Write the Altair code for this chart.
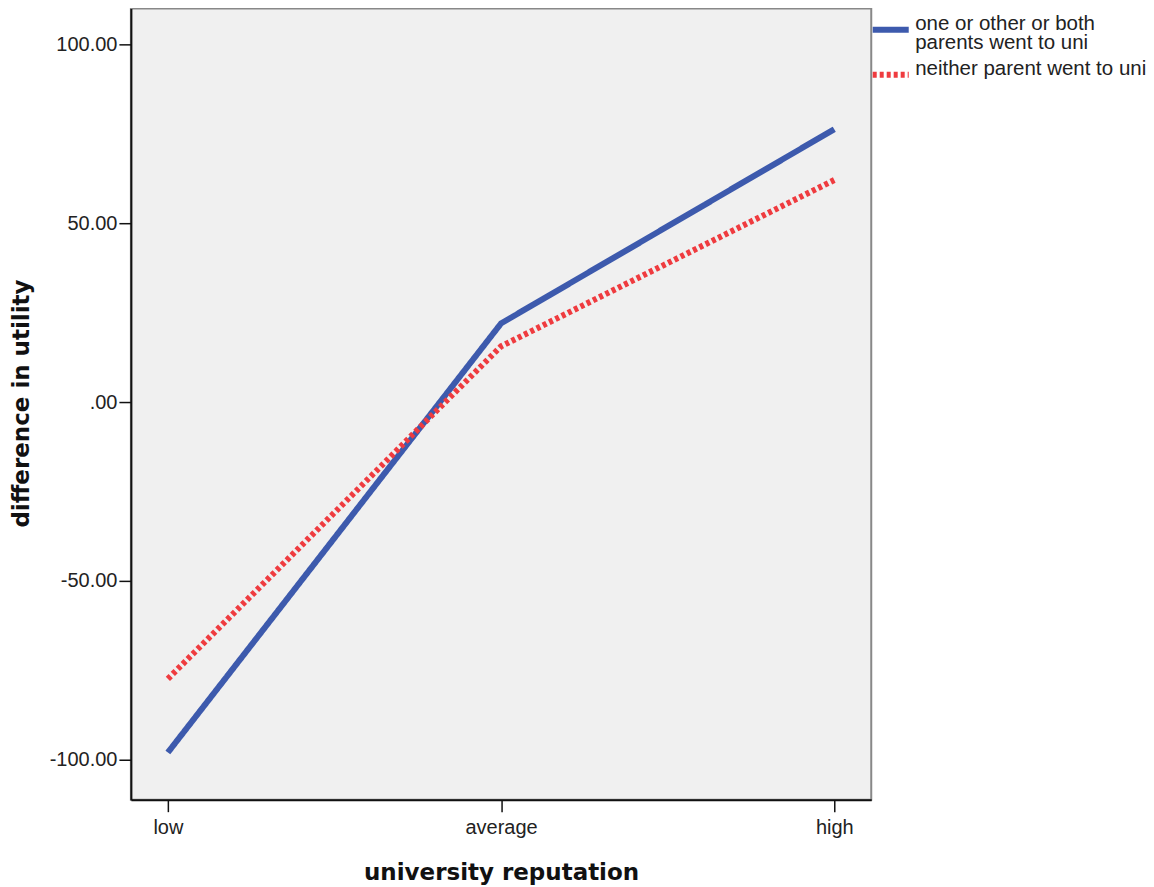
import altair as alt
import pandas as pd

categories = ["low", "average", "high"]
series_names = ["one or other or both parents went to uni", "neither parent went to uni"]
blue_values = [-98.0, 22.0, 76.3]
red_values = [-77.4, 15.6, 62.1]
y_ticks = [100, 50, 0, -50, -100]

rows = []
for c, v in zip(categories, blue_values):
    rows.append({"reputation": c, "utility": v, "group": series_names[0]})
for c, v in zip(categories, red_values):
    rows.append({"reputation": c, "utility": v, "group": series_names[1]})
df = pd.DataFrame(rows)

FONT = "Liberation Sans"
TITLE_FONT = "DejaVu Sans"

label_expr = ("datum.label == 'one or other or both parents went to uni' ? "
              "['one or other or both', 'parents went to uni'] : datum.label")

chart = alt.Chart(df).mark_line(strokeCap="butt", strokeJoin="miter").encode(
    x=alt.X("reputation:N", sort=categories,
            scale=alt.Scale(type="point", padding=0.111),
            axis=alt.Axis(title="university reputation", labelAngle=0,
                          labelFont=FONT, labelFontSize=20, labelColor="#222",
                          titleFont=TITLE_FONT, titleFontSize=23, titleFontWeight="bold",
                          titleColor="#111", titleY=73, titleBaseline="middle",
                          tickSize=12, tickColor="#111", tickWidth=1.5,
                          domainColor="#111", domainWidth=2,
                          labelPadding=6, grid=False)),
    y=alt.Y("utility:Q",
            scale=alt.Scale(domain=[-111.2, 110.1], nice=False, zero=False),
            axis=alt.Axis(title="difference in utility", values=y_ticks,
                          labelExpr="datum.value == 0 ? '.00' : replace(format(datum.value, '.2f'), '\u2212', '-')",
                          labelFont=FONT, labelFontSize=20, labelColor="#222",
                          titleFont=TITLE_FONT, titleFontSize=23, titleFontWeight="bold",
                          titleColor="#111", titleAngle=270, titleX=-109, titleY=395,
                          titleAlign="center", titleBaseline="middle",
                          tickSize=12, tickColor="#111", tickWidth=1.5,
                          domainColor="#111", domainWidth=2,
                          labelPadding=2, grid=False)),
    color=alt.Color("group:N", sort=series_names,
                    scale=alt.Scale(domain=series_names, range=["#3d5aad", "#ef3b3f"]),
                    legend=alt.Legend(title=None, orient="none", legendX=739, legendY=0,
                                      symbolType="stroke", symbolSize=1300,
                                      symbolStrokeWidth=6, labelFont=FONT,
                                      labelFontSize=20.5, labelColor="#222",
                                      labelBaseline="alphabetic",
                                      labelExpr=label_expr, labelOffset=3,
                                      labelLimit=400, rowPadding=0, padding=0)),
    strokeDash=alt.StrokeDash("group:N", sort=series_names,
                              scale=alt.Scale(domain=series_names, range=[[1, 0], [4, 3]]),
                              legend=None),
    strokeWidth=alt.value(6),
).properties(
    width=741, height=792,
    autosize=alt.AutoSizeParams(type="none"),
    padding={"left": 123, "top": 0, "right": 275, "bottom": 86},
).configure(
    background="white",
    style={"guide-label": {"lineHeight": 19}},
).configure_view(
    fill="#f0f0f0", stroke="#888888", strokeWidth=2
)

chart.save("out.html", embed_options={"renderer": "svg", "actions": False})
